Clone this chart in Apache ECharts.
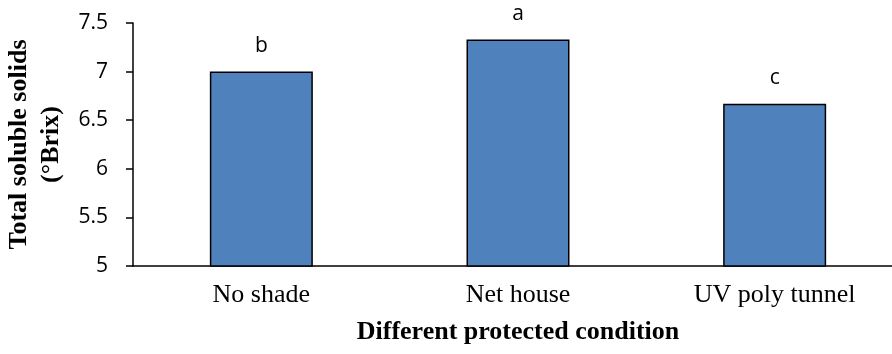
<!DOCTYPE html>
<html>
<head>
<meta charset="utf-8">
<script src="https://cdn.jsdelivr.net/npm/echarts@6/dist/echarts.min.js"></script>
<style>
  html, body { margin: 0; padding: 0; background: #fff; }
  #chart { width: 892px; height: 354px; }
</style>
</head>
<body>
<div id="chart"></div>
<script>
// Treatments and mean total soluble solids (°Brix)
const categories = ['No shade', 'Net house', 'UV poly tunnel'];
const tssValues = [7.0, 7.33, 6.67];
const groupLetters = ['b', 'a', 'c'];
const yTicks = { min: 5, max: 7.5, interval: 0.5 };

const chart = echarts.init(document.getElementById('chart'), null, { renderer: 'canvas' });

chart.setOption({
  animation: false,
  grid: { left: 133, top: 23, width: 770, height: 243, containLabel: false, outerBoundsMode: 'none' },
  xAxis: {
    type: 'category',
    data: categories,
    axisLine: { lineStyle: { color: '#000', width: 1.5 } },
    axisTick: { show: false },
    axisLabel: {
      fontFamily: 'Liberation Serif',
      fontSize: 26,
      color: '#000',
      margin: 16
    },
    name: 'Different protected condition',
    nameLocation: 'middle',
    nameGap: 53,
    nameTextStyle: {
      fontFamily: 'Liberation Serif',
      fontWeight: 'bold',
      fontSize: 26,
      color: '#000'
    }
  },
  yAxis: {
    type: 'value',
    min: yTicks.min,
    max: yTicks.max,
    interval: yTicks.interval,
    splitLine: { show: false },
    axisLine: { show: true, lineStyle: { color: '#000', width: 1.5 } },
    axisTick: { show: true, length: 7, lineStyle: { color: '#000', width: 1.5 } },
    axisLabel: {
      fontFamily: 'Open Sans',
      fontSize: 21,
      color: '#000',
      margin: 25
    },
    name: 'Total soluble solids\n(°Brix)',
    nameLocation: 'middle',
    nameGap: 60,
    nameRotate: 90,
    nameTextStyle: {
      fontFamily: 'Liberation Serif',
      fontWeight: 'bold',
      fontSize: 26,
      color: '#000',
      lineHeight: 32
    }
  },
  series: [{
    type: 'bar',
    data: tssValues,
    barWidth: 103,
    itemStyle: { color: '#4F81BD', borderColor: '#000', borderWidth: 1.5 },
    label: {
      show: true,
      position: 'top',
      distance: 15,
      formatter: p => groupLetters[p.dataIndex],
      fontFamily: 'Open Sans',
      fontSize: 21,
      color: '#000'
    }
  }]
});
</script>
</body>
</html>
